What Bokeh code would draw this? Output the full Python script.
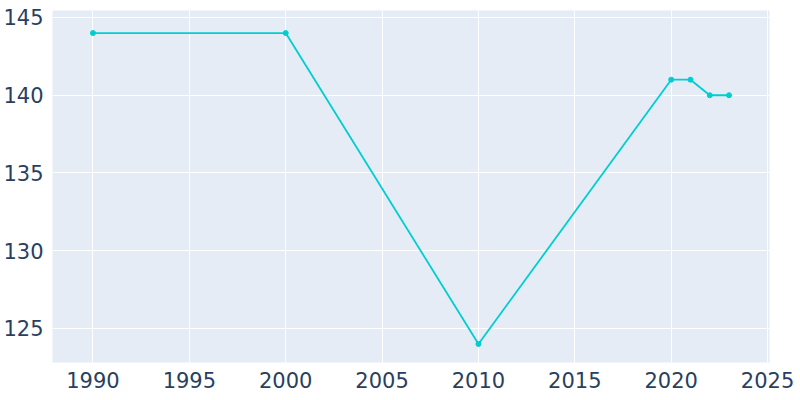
from bokeh.plotting import figure
from bokeh.models import Range1d, FixedTicker
from bokeh.embed import file_html
from bokeh.resources import INLINE

years = [1990, 2000, 2010, 2020, 2021, 2022, 2023]
population = [144, 144, 124, 141, 141, 140, 140]
x_ticks = [1990, 1995, 2000, 2005, 2010, 2015, 2020, 2025]
y_ticks = [125, 130, 135, 140, 145]

p = figure(frame_width=717, frame_height=352, output_backend="svg", toolbar_location=None,
           x_range=Range1d(1987.9, 2025.1), y_range=Range1d(122.81, 145.45),
           min_border_left=42, min_border_top=10, min_border_right=25, min_border_bottom=30)
p.background_fill_color = "#E5ECF6"
p.border_fill_color = "white"
p.outline_line_color = None

p.line(years, population, line_color="#00CED1", line_width=1.8)
p.scatter(years, population, size=5, fill_color="#00CED1", line_color="#00CED1")

for ax in (p.xaxis, p.yaxis):
    ax.axis_line_color = None
    ax.major_tick_line_color = None
    ax.minor_tick_line_color = None
    ax.major_label_text_font = "DejaVu Sans"
    ax.major_label_text_font_size = "21px"
    ax.major_label_text_color = "#2a3f5f"
p.xaxis.ticker = FixedTicker(ticks=x_ticks)
p.yaxis.ticker = FixedTicker(ticks=y_ticks)
p.xaxis.major_label_standoff = 3
p.yaxis.major_label_standoff = 3
p.grid.grid_line_color = "white"
p.grid.grid_line_width = 1

open("out.html", "w").write(file_html(p, INLINE))
